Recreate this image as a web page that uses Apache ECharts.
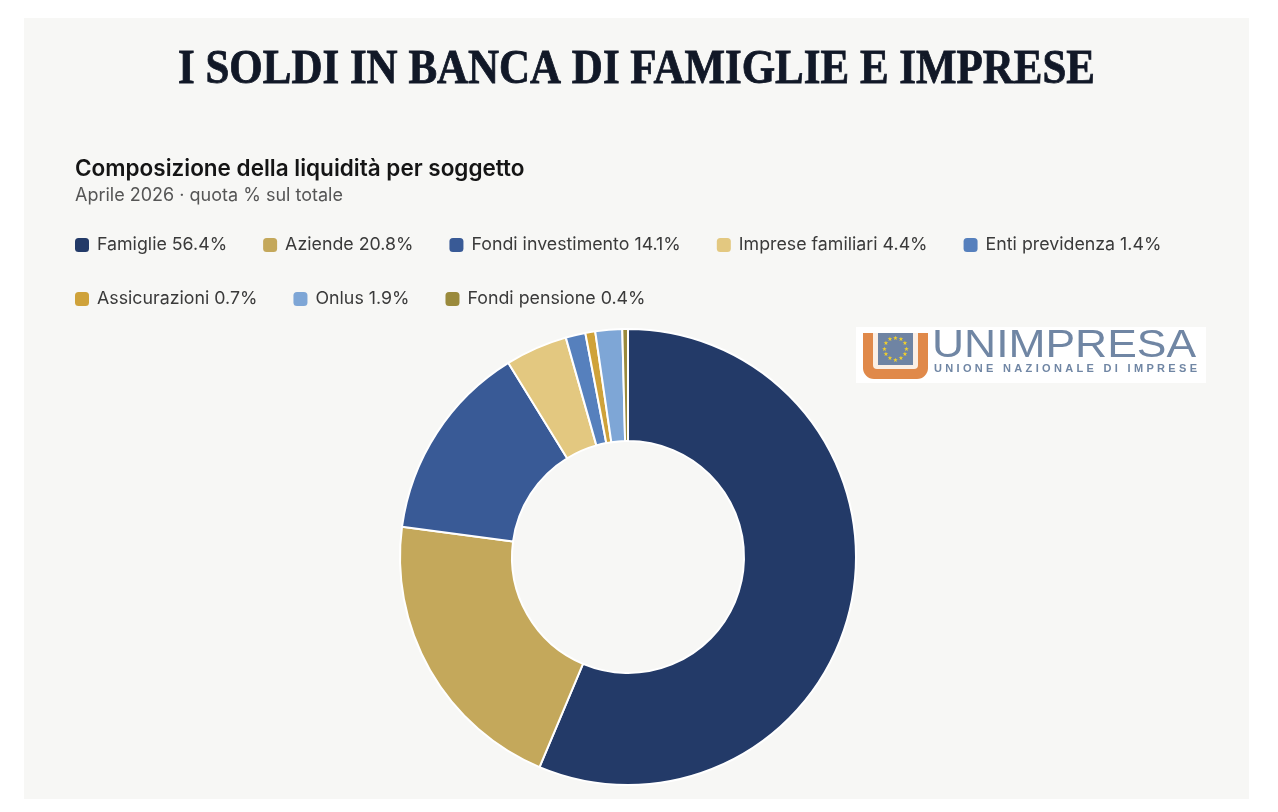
<!DOCTYPE html>
<html>
<head>
<meta charset="utf-8">
<script src="https://cdn.jsdelivr.net/npm/echarts@6/dist/echarts.min.js"></script>
<style>
html,body{margin:0;padding:0;background:#fff;}
#c{width:1278px;height:812px;}
</style>
</head>
<body>
<div id="c"></div>
<script>
const categories = ['Famiglie', 'Aziende', 'Fondi investimento', 'Imprese familiari', 'Enti previdenza', 'Assicurazioni', 'Onlus', 'Fondi pensione'];
const shares = [56.4, 20.8, 14.1, 4.4, 1.4, 0.7, 1.9, 0.4];
const sliceColors = ['#233a68', '#c4a85b', '#395a96', '#e3c880', '#5680bd', '#cfa23a', '#7ea6d6', '#9a8a3c'];
const legendRow1 = categories.slice(0, 5);
const legendRow2 = categories.slice(5);

const mainTitle = 'I SOLDI IN BANCA DI FAMIGLIE E IMPRESE';
const chartTitle = 'Composizione della liquidità per soggetto';
const chartSubtitle = 'Aprile 2026 · quota % sul totale';
const logoName = 'UNIMPRESA';
const logoTagline = 'UNIONE NAZIONALE DI IMPRESE';

const ctx = document.createElement('canvas').getContext('2d');
function measure(text, font) { ctx.font = font; return ctx.measureText(text).width; }

const titleFont = 'bold 48px "Liberation Serif"';
const titleScale = 917 / measure(mainTitle, titleFont);
const logoFont = '38px "Liberation Sans"';
const logoScale = 264 / measure(logoName, logoFont);

// logo tagline letter-spaced
const tagFont = 'bold 11px "Liberation Sans"';
const tagChars = logoTagline.split('');
const tagNatural = tagChars.reduce((s, ch) => s + measure(ch, tagFont), 0);
const tagSpacing = (263 - tagNatural) / (tagChars.length - 1);
const tagElems = [];
let tx = 934;
tagChars.forEach(ch => {
  tagElems.push({ type: 'text', x: tx, y: 369, style: { text: ch, font: tagFont, fill: '#7086a4', textAlign: 'left', textVerticalAlign: 'middle' }, silent: true });
  tx += measure(ch, tagFont) + tagSpacing;
});

const stars = [];
for (let i = 0; i < 12; i++) {
  const a = i / 12 * Math.PI * 2;
  stars.push({ type: 'text', x: 895.5 + 11 * Math.cos(a), y: 349 + 11 * Math.sin(a),
    style: { text: '★', fontSize: 6, fontFamily: 'DejaVu Sans', fill: '#f3d12a', textAlign: 'center', textVerticalAlign: 'middle' }, silent: true });
}

const chart = echarts.init(document.getElementById('c'), null, { renderer: 'canvas' });

function legendFmt(name) {
  const i = categories.indexOf(name);
  return name + ' ' + shares[i].toFixed(1) + '%';
}
const legendBase = {
  left: 75, orient: 'horizontal', itemGap: 36, itemWidth: 14, itemHeight: 14, padding: 0,
  icon: 'roundRect', selectedMode: false,
  itemStyle: { borderWidth: 0 },
  formatter: legendFmt,
  textStyle: { fontFamily: 'Inter', fontSize: 17.8, color: '#3a3a3a', lineHeight: 20, padding: [0, 0, 0, 3] }
};

chart.setOption({
  backgroundColor: '#ffffff',
  color: sliceColors,
  animation: false,
  graphic: [
    { type: 'rect', z: -10, shape: { x: 24, y: 18, width: 1225, height: 781 }, style: { fill: '#f7f7f5' }, silent: true },
    { type: 'text', x: 636.5, y: 71, scaleX: titleScale, style: { text: mainTitle, font: titleFont, fill: '#111827', stroke: '#111827', lineWidth: 0.8, textAlign: 'center', textVerticalAlign: 'middle' }, silent: true },
    { type: 'text', x: 75, y: 169, style: { text: chartTitle, fontFamily: 'Inter', fontWeight: 600, fontSize: 22.5, fill: '#151515', textAlign: 'left', textVerticalAlign: 'middle' }, silent: true },
    { type: 'text', x: 75, y: 196, style: { text: chartSubtitle, fontFamily: 'Inter', fontSize: 18, fill: '#555555', textAlign: 'left', textVerticalAlign: 'middle' }, silent: true },
    { type: 'group', children: [
      { type: 'rect', shape: { x: 856, y: 327, width: 350, height: 56 }, style: { fill: '#ffffff' }, silent: true },
      { type: 'rect', shape: { x: 863, y: 333, width: 65, height: 46, r: [0, 0, 11, 11] }, style: { fill: '#e0894a' }, silent: true },
      { type: 'rect', shape: { x: 873, y: 333, width: 45, height: 36, r: [0, 0, 4, 4] }, style: { fill: '#fbefe5' }, silent: true },
      { type: 'rect', shape: { x: 878, y: 333, width: 35, height: 32 }, style: { fill: '#6f84a3' }, silent: true },
      ...stars,
      { type: 'text', x: 932, y: 347, scaleX: logoScale, style: { text: logoName, font: logoFont, fill: '#7086a4', textAlign: 'left', textVerticalAlign: 'middle' }, silent: true },
      ...tagElems
    ]}
  ],
  legend: [
    Object.assign({}, legendBase, { top: 235, data: legendRow1 }),
    Object.assign({}, legendBase, { top: 289, data: legendRow2 })
  ],
  series: [{
    type: 'pie',
    center: [628, 557],
    radius: [116, 228],
    startAngle: 90,
    clockwise: true,
    label: { show: false },
    labelLine: { show: false },
    emphasis: { disabled: true },
    itemStyle: { borderColor: '#ffffff', borderWidth: 2 },
    data: categories.map((n, i) => ({ name: n, value: shares[i] }))
  }]
});
</script>
</body>
</html>
